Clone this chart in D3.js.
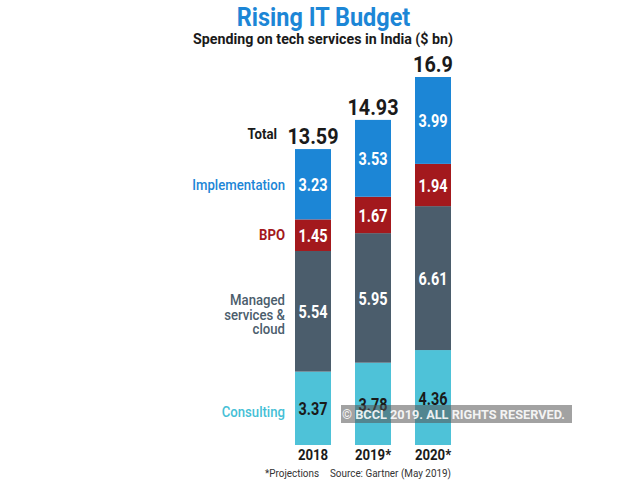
<!DOCTYPE html>
<html><head><meta charset="utf-8">
<script src="https://cdn.jsdelivr.net/npm/d3@7"></script>
<style>
body{margin:0;background:#fff;}
svg{display:block;}
text{font-family:Roboto,"Liberation Sans",sans-serif;}
</style></head><body>
<svg id="c" width="639" height="480"></svg>
<script>
const years = ["2018", "2019*", "2020*"];
const series = ["Consulting", "Managed services & cloud", "BPO", "Implementation"];
const consulting = [3.37, 3.78, 4.36];
const managed = [5.54, 5.95, 6.61];
const bpo = [1.45, 1.67, 1.94];
const implementation = [3.23, 3.53, 3.99];
const totals = ["13.59", "14.93", "16.9"];
const seriesLabels = [["Consulting"], ["Managed", "services &", "cloud"], ["BPO"], ["Implementation"]];

const colors = ["#4ec2d8", "#4b5d6c", "#a3191d", "#1c86d6"];
const labelColors = ["#45bfd6", "#4b5d6c", "#a3191d", "#1c86d6"];
const valueColors = ["#1a1a1a", "#fff", "#fff", "#fff"];

const svg = d3.select("#c");
const x = d3.scaleBand().domain(years).range([295, 451]).paddingInner(0.4).paddingOuter(0);
const y = d3.scaleLinear().domain([0, 16.9]).range([445, 77]);

const rows = years.map((yr, i) => ({year: yr, Consulting: consulting[i], "Managed services & cloud": managed[i], BPO: bpo[i], Implementation: implementation[i], total: totals[i]}));
const stack = d3.stack().keys(series)(rows);

// text helper with horizontal condensing
function T(parent, tx, ty, s, o) {
  const t = parent.append("text")
    .attr("transform", `translate(${tx},${ty}) scale(${o.sx || 1},1)`)
    .attr("text-anchor", o.anchor || "start")
    .attr("font-size", o.size).attr("font-weight", o.weight || "normal")
    .attr("fill", o.fill || "#1a1a1a").text(s);
  if (o.len) t.attr("textLength", o.len / (o.sx || 1)).attr("lengthAdjust", "spacingAndGlyphs");
  return t;
}

// title
T(svg, 323.5, 26, "Rising IT Budget", {size: 25.5, weight: "bold", fill: "#1c86d6", anchor: "middle", sx: 0.92});
T(svg, 323, 44, "Spending on tech services in India ($ bn)", {size: 15, weight: "bold", anchor: "middle", sx: 0.95});

// bars
stack.forEach((layer, si) => {
  const g = svg.append("g");
  g.selectAll("rect").data(layer).join("rect")
    .attr("x", d => x(d.data.year)).attr("width", x.bandwidth())
    .attr("y", d => y(d[1])).attr("height", d => y(d[0]) - y(d[1]))
    .attr("fill", colors[si]);
  g.selectAll("text").data(layer).join("text")
    .attr("transform", d => `translate(${x(d.data.year) + x.bandwidth() / 2},${(y(d[0]) + y(d[1])) / 2 + 7}) scale(0.76,1)`)
    .attr("text-anchor", "middle").attr("font-size", 19).attr("font-weight", "bold")
    .attr("fill", valueColors[si]).text(d => (d[1] - d[0]).toFixed(2));
});

// totals
svg.append("g").selectAll("text").data(rows).join("text")
  .attr("transform", d => `translate(${x(d.year) + x.bandwidth() / 2},${y(+d.total) - 5}) scale(0.9,1)`)
  .attr("text-anchor", "middle").attr("font-size", 22).attr("font-weight", "bold")
  .attr("fill", "#1a1a1a").text(d => d.total);

// x axis labels
const xAxis = d3.axisBottom(x).tickSize(0).tickPadding(0);
const ax = svg.append("g").attr("transform", "translate(0,449)").call(xAxis);
ax.select(".domain").remove();
ax.selectAll("text").attr("font-size", 15).attr("font-weight", "bold").attr("fill", "#1a1a1a")
  .attr("font-family", "Roboto,'Liberation Sans',sans-serif").attr("transform", "scale(0.88,1)");

// left series labels
T(svg, 277, 139, "Total", {size: 15, weight: "bold", anchor: "end", sx: 0.88});
const labelBase = [[417], [305, 319.5, 334], [240], [190]];
seriesLabels.forEach((lines, si) => {
  lines.forEach((ln, k) => {
    T(svg, 285, labelBase[si][k], ln, {size: 14, weight: si === 2 ? "bold" : 500, fill: labelColors[si], anchor: "end", sx: 0.94});
  });
});

// footnote
T(svg, 265, 477, "*Projections", {size: 11, fill: "#333", len: 54});
T(svg, 330, 477, "Source: Gartner (May 2019)", {size: 11, fill: "#333", len: 121});

// watermark
svg.append("rect").attr("x", 341).attr("y", 405).attr("width", 231).attr("height", 18)
  .attr("fill", "#555").attr("fill-opacity", 0.55);
svg.append("text").attr("x", 342).attr("y", 419)
  .attr("font-family", "'Liberation Sans',Arial,sans-serif")
  .attr("font-size", 12).attr("font-weight", "bold").attr("fill", "#fff").attr("fill-opacity", 0.9)
  .attr("textLength", 223).attr("lengthAdjust", "spacingAndGlyphs")
  .text("© BCCL 2019. ALL RIGHTS RESERVED.");
</script>
</body></html>
